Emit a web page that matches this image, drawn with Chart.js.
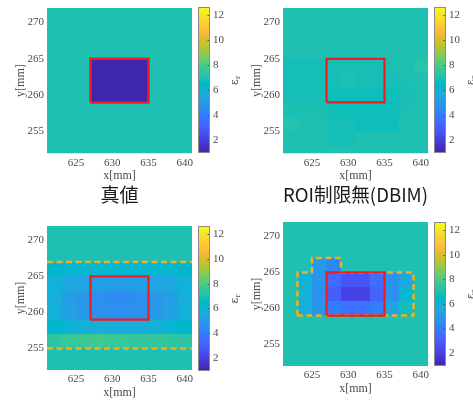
<!DOCTYPE html>
<html>
<head>
<meta charset="utf-8">
<script src="https://cdn.jsdelivr.net/npm/chart.js@4.4.0/dist/chart.umd.min.js"></script>
<style>
  html, body { margin: 0; padding: 0; background: #fff; }
  body { position: relative; width: 473px; height: 400px; overflow: hidden; }
  canvas { position: absolute; }
</style>
</head>
<body>
<canvas id="map1" width="236" height="206" style="left:0;top:0"></canvas>
<canvas id="map2" width="236" height="206" style="left:236px;top:0"></canvas>
<canvas id="cb1" width="44" height="206" style="left:196px;top:0"></canvas>
<canvas id="cb2" width="41" height="206" style="left:432px;top:0"></canvas>
<canvas id="map3" width="236" height="200" style="left:0;top:200px"></canvas>
<canvas id="map4" width="236" height="200" style="left:236px;top:200px"></canvas>
<canvas id="cb3" width="44" height="200" style="left:196px;top:200px"></canvas>
<canvas id="cb4" width="41" height="200" style="left:432px;top:200px"></canvas>
<script>
// ---- grid (cell centres in mm, 2 mm cells) ----
const xCenters = [622, 624, 626, 628, 630, 632, 634, 636, 638, 640];
const yCenters = [272, 270, 268, 266, 264, 262, 260, 258, 256, 254, 252];
const xTicks = [625, 630, 635, 640];
const yTicks = [255, 260, 265, 270];
const cbTicks = [2, 4, 6, 8, 10, 12];
const xLimits = [621, 641];
const yLimits = [252, 272];
const colorLimits = [0.95, 12.65];

// ---- relative permittivity maps, rows from y=272 down to y=252 ----
const epsTrue = [
  [7.0, 7.0, 7.0, 7.0, 7.0, 7.0, 7.0, 7.0, 7.0, 7.0],
  [7.0, 7.0, 7.0, 7.0, 7.0, 7.0, 7.0, 7.0, 7.0, 7.0],
  [7.0, 7.0, 7.0, 7.0, 7.0, 7.0, 7.0, 7.0, 7.0, 7.0],
  [7.0, 7.0, 7.0, 7.0, 7.0, 7.0, 7.0, 7.0, 7.0, 7.0],
  [7.0, 7.0, 7.0, 1.0, 1.0, 1.0, 1.0, 7.0, 7.0, 7.0],
  [7.0, 7.0, 7.0, 1.0, 1.0, 1.0, 1.0, 7.0, 7.0, 7.0],
  [7.0, 7.0, 7.0, 1.0, 1.0, 1.0, 1.0, 7.0, 7.0, 7.0],
  [7.0, 7.0, 7.0, 7.0, 7.0, 7.0, 7.0, 7.0, 7.0, 7.0],
  [7.0, 7.0, 7.0, 7.0, 7.0, 7.0, 7.0, 7.0, 7.0, 7.0],
  [7.0, 7.0, 7.0, 7.0, 7.0, 7.0, 7.0, 7.0, 7.0, 7.0],
  [7.0, 7.0, 7.0, 7.0, 7.0, 7.0, 7.0, 7.0, 7.0, 7.0]
];
const epsDBIM = [
  [7.0, 7.0, 7.0, 7.0, 7.0, 7.0, 7.0, 7.0, 7.0, 7.0],
  [7.0, 7.0, 7.0, 7.0, 7.0, 7.0, 7.0, 7.0, 7.0, 7.0],
  [7.0, 7.0, 7.0, 7.0, 7.0, 7.0, 7.0, 7.0, 7.0, 7.0],
  [7.0, 7.0, 7.0, 7.0, 7.0, 7.0, 7.0, 7.0, 7.0, 7.0],
  [6.85, 6.85, 6.85, 6.9, 6.9, 6.9, 6.9, 6.95, 7.0, 7.2],
  [6.85, 6.85, 6.85, 6.85, 7.0, 6.85, 6.85, 6.85, 6.95, 7.0],
  [6.85, 6.85, 6.85, 6.75, 6.75, 6.75, 6.75, 6.75, 6.9, 7.0],
  [6.95, 6.95, 6.95, 6.75, 6.75, 6.75, 6.75, 6.75, 6.95, 7.0],
  [7.1, 7.0, 7.0, 6.85, 6.85, 6.75, 6.75, 6.75, 7.0, 7.0],
  [7.0, 7.0, 7.0, 6.85, 6.85, 7.0, 7.0, 7.0, 7.0, 7.0],
  [7.0, 7.0, 7.0, 7.0, 7.0, 7.0, 7.0, 7.0, 7.0, 7.0]
];
const epsBand = [
  [7.0, 7.0, 7.0, 7.0, 7.0, 7.0, 7.0, 7.0, 7.0, 7.0],
  [7.0, 7.0, 7.0, 7.0, 7.0, 7.0, 7.0, 7.0, 7.0, 7.0],
  [7.0, 7.0, 7.0, 7.0, 7.0, 7.0, 7.0, 7.0, 7.0, 7.0],
  [6.3, 6.2, 6.2, 6.2, 6.2, 6.2, 6.2, 6.2, 6.2, 6.3],
  [6.0, 5.6, 5.4, 5.2, 5.1, 5.1, 5.2, 5.4, 5.6, 6.0],
  [5.8, 5.2, 4.9, 4.6, 4.5, 4.5, 4.6, 4.9, 5.2, 5.8],
  [5.9, 5.3, 5.0, 4.7, 4.6, 4.6, 4.7, 5.0, 5.3, 5.9],
  [6.3, 6.1, 5.9, 5.8, 5.8, 5.8, 5.8, 5.9, 6.1, 6.3],
  [7.4, 7.6, 7.7, 7.8, 7.7, 7.6, 7.5, 7.5, 7.4, 7.3],
  [7.0, 7.0, 7.0, 7.0, 7.0, 7.0, 7.0, 7.0, 7.0, 7.0],
  [7.0, 7.0, 7.0, 7.0, 7.0, 7.0, 7.0, 7.0, 7.0, 7.0]
];
const epsMask = [
  [7.0, 7.0, 7.0, 7.0, 7.0, 7.0, 7.0, 7.0, 7.0, 7.0],
  [7.0, 7.0, 7.0, 7.0, 7.0, 7.0, 7.0, 7.0, 7.0, 7.0],
  [7.0, 7.0, 7.0, 7.0, 7.0, 7.0, 7.0, 7.0, 7.0, 7.0],
  [7.0, 7.0, 4.9, 4.3, 7.0, 7.0, 7.0, 7.0, 7.0, 7.0],
  [7.0, 6.0, 4.8, 3.4, 2.7, 2.7, 3.5, 4.8, 5.5, 7.0],
  [7.0, 6.0, 4.6, 3.0, 2.1, 2.1, 3.2, 4.7, 6.2, 7.0],
  [7.0, 5.8, 4.8, 4.0, 3.6, 3.6, 4.0, 5.4, 6.8, 7.0],
  [7.0, 7.0, 7.0, 7.0, 7.0, 7.0, 7.0, 7.0, 7.0, 7.0],
  [7.0, 7.0, 7.0, 7.0, 7.0, 7.0, 7.0, 7.0, 7.0, 7.0],
  [7.0, 7.0, 7.0, 7.0, 7.0, 7.0, 7.0, 7.0, 7.0, 7.0],
  [7.0, 7.0, 7.0, 7.0, 7.0, 7.0, 7.0, 7.0, 7.0, 7.0]
];

// ---- outlines (mm) ----
const roiRect = [[627, 259], [627, 265], [635, 265], [635, 259], [627, 259]];
const bandUpper = [[621, 267], [641, 267]];
const bandLower = [[621, 255], [641, 255]];
const maskOutline = [[623, 259], [623, 265], [625, 265], [625, 267], [629, 267], [629, 265], [639, 265], [639, 259], [623, 259]];

const captions = ['真値', 'ROI制限無(DBIM)'];

// parula colormap (64 entries)
const parula = [
[0.2422,0.1504,0.6603],[0.2504,0.1650,0.7076],[0.2578,0.1818,0.7511],[0.2647,0.1978,0.7952],
[0.2706,0.2147,0.8364],[0.2751,0.2342,0.8710],[0.2783,0.2559,0.8991],[0.2803,0.2782,0.9221],
[0.2813,0.3006,0.9414],[0.2810,0.3228,0.9579],[0.2795,0.3447,0.9717],[0.2760,0.3667,0.9829],
[0.2699,0.3892,0.9906],[0.2602,0.4123,0.9952],[0.2440,0.4358,0.9988],[0.2206,0.4603,0.9973],
[0.1963,0.4847,0.9892],[0.1834,0.5074,0.9798],[0.1786,0.5289,0.9682],[0.1764,0.5499,0.9520],
[0.1687,0.5703,0.9359],[0.1540,0.5902,0.9218],[0.1460,0.6091,0.9079],[0.1380,0.6276,0.8973],
[0.1248,0.6459,0.8883],[0.1113,0.6635,0.8763],[0.0952,0.6798,0.8598],[0.0689,0.6948,0.8394],
[0.0297,0.7082,0.8163],[0.0036,0.7203,0.7917],[0.0067,0.7312,0.7660],[0.0433,0.7411,0.7394],
[0.0964,0.7500,0.7120],[0.1408,0.7584,0.6842],[0.1717,0.7670,0.6554],[0.1938,0.7758,0.6251],
[0.2161,0.7843,0.5923],[0.2470,0.7918,0.5567],[0.2906,0.7973,0.5188],[0.3406,0.8008,0.4789],
[0.3909,0.8029,0.4354],[0.4456,0.8024,0.3909],[0.5044,0.7993,0.3480],[0.5616,0.7942,0.3045],
[0.6174,0.7876,0.2612],[0.6720,0.7793,0.2227],[0.7242,0.7698,0.1910],[0.7738,0.7598,0.1646],
[0.8203,0.7498,0.1535],[0.8634,0.7406,0.1596],[0.9035,0.7330,0.1774],[0.9393,0.7288,0.2100],
[0.9728,0.7298,0.2394],[0.9956,0.7434,0.2371],[0.9970,0.7659,0.2199],[0.9952,0.7893,0.2028],
[0.9892,0.8136,0.1885],[0.9786,0.8386,0.1766],[0.9676,0.8639,0.1643],[0.9610,0.8890,0.1537],
[0.9597,0.9135,0.1423],[0.9628,0.9373,0.1265],[0.9691,0.9606,0.1064],[0.9769,0.9839,0.0805]
];

function colorFor(v) {
  let t = (v - colorLimits[0]) / (colorLimits[1] - colorLimits[0]);
  t = Math.min(1, Math.max(0, t)) * (parula.length - 1);
  const i = Math.min(parula.length - 2, Math.floor(t));
  const f = t - i;
  const a = parula[i], b = parula[i + 1];
  const c = a.map((x, k) => Math.round(255 * (x + (b[k] - x) * f)));
  return `rgb(${c[0]},${c[1]},${c[2]})`;
}

const tickFont = { family: "'Liberation Serif', 'Times New Roman', serif", size: 11 };
const tickColor = '#4a4a4a';

// draws the permittivity cells through the chart's x/y scales
const cellPlugin = {
  id: 'cells',
  beforeDatasetsDraw(chart, args, opts) {
    const { ctx, chartArea: a, scales: { x, y } } = chart;
    ctx.save();
    ctx.beginPath();
    ctx.rect(a.left, a.top, a.right - a.left, a.bottom - a.top);
    ctx.clip();
    opts.grid.forEach((row, j) => {
      row.forEach((v, i) => {
        const x0 = Math.round(x.getPixelForValue(xCenters[i] - 1));
        const x1 = Math.round(x.getPixelForValue(xCenters[i] + 1));
        const y0 = Math.round(y.getPixelForValue(yCenters[j] + 1));
        const y1 = Math.round(y.getPixelForValue(yCenters[j] - 1));
        ctx.fillStyle = colorFor(v);
        ctx.fillRect(x0, y0, x1 - x0, y1 - y0);
      });
    });
    ctx.restore();
  }
};

function fixedScale(size, isX) {
  return function (scale) {
    if (isX) scale.height = size; else scale.width = size;
    scale.paddingTop = 0; scale.paddingBottom = 0;
    scale.paddingLeft = 0; scale.paddingRight = 0;
  };
}
function setTicks(values) {
  return function (scale) { scale.ticks = values.map(v => ({ value: v })); };
}

function lineSet(points, color, width, dash) {
  return {
    data: points.map(p => ({ x: p[0], y: p[1] })),
    showLine: true, pointRadius: 0, borderColor: color, borderWidth: width,
    borderDash: dash || [], borderJoinStyle: 'miter', borderCapStyle: 'butt',
    fill: false, tension: 0, clip: 4
  };
}

function makeMap(id, grid, outlines, caption, pad) {
  new Chart(document.getElementById(id), {
    type: 'scatter',
    data: { datasets: outlines },
    plugins: [cellPlugin],
    options: {
      responsive: false, animation: false, devicePixelRatio: 1,
      layout: { padding: pad, autoPadding: false },
      plugins: {
        legend: { display: false }, tooltip: { enabled: false },
        cells: { grid: grid },
        title: caption ? {
          display: true, text: caption, position: 'bottom', fullSize: false,
          color: '#1a1a1a', padding: { top: 0, bottom: 0 },
          font: { family: "'Noto Sans CJK JP', 'Noto Sans', sans-serif", size: 19, weight: 'normal', lineHeight: 1.2 }
        } : { display: false }
      },
      scales: {
        x: {
          type: 'linear', min: xLimits[0], max: xLimits[1],
          grid: { display: false, drawTicks: false }, border: { display: false },
          ticks: { font: tickFont, color: tickColor, padding: 3, maxRotation: 0 },
          afterBuildTicks: setTicks(xTicks), afterFit: fixedScale(30, true),
          title: { display: true, text: 'x[mm]', color: tickColor, padding: { top: 0, bottom: 0 },
                   font: { family: tickFont.family, size: 12, lineHeight: 1.2 } }
        },
        y: {
          type: 'linear', min: yLimits[0], max: yLimits[1],
          grid: { display: false, drawTicks: false }, border: { display: false },
          ticks: { font: tickFont, color: tickColor, padding: 3 },
          afterBuildTicks: setTicks(yTicks), afterFit: fixedScale(40, false),
          title: { display: true, text: 'y[mm]', color: tickColor, padding: { top: 7, bottom: 0 },
                   font: { family: tickFont.family, size: 12, lineHeight: 1.2 } }
        }
      }
    }
  });
}

// colour bar: gradient over the chart area, labelled by its own y scale
const colorbarPlugin = {
  id: 'colorbar',
  beforeDatasetsDraw(chart) {
    const { ctx, chartArea: a, scales: { y } } = chart;
    ctx.save();
    const g = ctx.createLinearGradient(0, y.getPixelForValue(colorLimits[0]), 0, y.getPixelForValue(colorLimits[1]));
    parula.forEach((c, k) => {
      g.addColorStop(k / (parula.length - 1), `rgb(${Math.round(c[0]*255)},${Math.round(c[1]*255)},${Math.round(c[2]*255)})`);
    });
    ctx.fillStyle = g;
    ctx.fillRect(a.left, a.top, a.right - a.left, a.bottom - a.top);
    ctx.strokeStyle = '#555';
    ctx.lineWidth = 1;
    cbTicks.forEach(v => {
      const py = Math.round(y.getPixelForValue(v)) + 0.5;
      ctx.beginPath(); ctx.moveTo(a.right - 2.5, py); ctx.lineTo(a.right, py); ctx.stroke();
    });
    ctx.strokeStyle = '#8a8a8a';
    ctx.strokeRect(a.left + 0.5, a.top + 0.5, a.right - a.left - 1, a.bottom - a.top - 1);
    // colour-bar label: epsilon with subscript r, reading bottom to top
    const cx = a.right + 25, cy = (a.top + a.bottom) / 2;
    ctx.translate(cx, cy);
    ctx.rotate(-Math.PI / 2);
    ctx.fillStyle = tickColor;
    ctx.textBaseline = 'middle';
    ctx.textAlign = 'left';
    ctx.font = "11px 'DejaVu Serif', serif";
    ctx.fillText('ε', -5, 0);
    ctx.font = "7px 'DejaVu Serif', serif";
    ctx.fillText('r', 1, 3);
    ctx.restore();
  }
};

function makeColorbar(id, pad) {
  new Chart(document.getElementById(id), {
    type: 'scatter',
    data: { datasets: [] },
    plugins: [colorbarPlugin],
    options: {
      responsive: false, animation: false, devicePixelRatio: 1,
      layout: { padding: pad, autoPadding: false },
      plugins: { legend: { display: false }, tooltip: { enabled: false } },
      scales: {
        x: { type: 'linear', display: false, min: 0, max: 1 },
        y: {
          type: 'linear', position: 'right', min: colorLimits[0], max: colorLimits[1],
          grid: { display: false, drawTicks: false }, border: { display: false },
          ticks: { font: tickFont, color: tickColor, padding: 3 },
          afterBuildTicks: setTicks(cbTicks), afterFit: fixedScale(20, false)
        }
      }
    }
  });
}

const red = '#f01c1c', gold = '#EDB120';

makeMap('map1', epsTrue, [lineSet(roiRect, red, 2.5)], captions[0], { left: 7, top: 8, right: 44, bottom: 0 });
makeMap('map2', epsDBIM, [lineSet(roiRect, red, 2.2)], captions[1], { left: 7, top: 8, right: 44, bottom: 0 });
makeMap('map3', epsBand, [lineSet(roiRect, red, 2.2), lineSet(bandUpper, gold, 2.5, [6, 3.5]), lineSet(bandLower, gold, 2.5, [6, 3.5])], null, { left: 7, top: 26, right: 44, bottom: 0 });
makeMap('map4', epsMask, [lineSet(roiRect, red, 2.2), lineSet(maskOutline, gold, 2.5, [6, 3.5])], null, { left: 7, top: 22, right: 44, bottom: 4 });

makeColorbar('cb1', { left: 2, top: 7, right: 10, bottom: 53 });
makeColorbar('cb2', { left: 2, top: 7, right: 7, bottom: 53 });
makeColorbar('cb3', { left: 2, top: 26, right: 10, bottom: 29 });
makeColorbar('cb4', { left: 2, top: 22, right: 7, bottom: 34 });
</script>
</body>
</html>
